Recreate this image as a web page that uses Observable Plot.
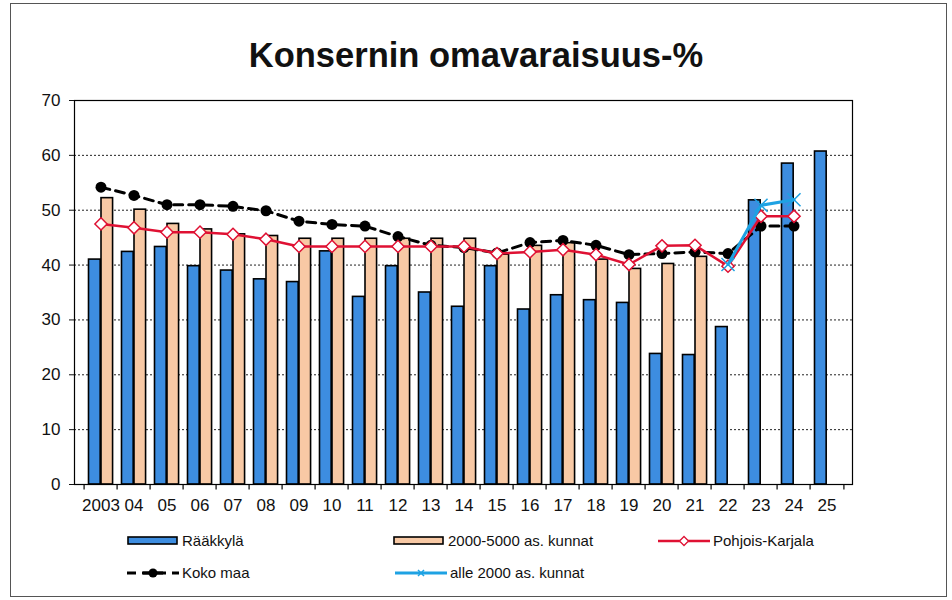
<!DOCTYPE html>
<html><head><meta charset="utf-8">
<script src="https://cdn.jsdelivr.net/npm/d3@7"></script>
<script src="https://cdn.jsdelivr.net/npm/@observablehq/plot@0.6"></script>
<style>
body{margin:0;background:#fff;font-family:"Liberation Sans",Arial,sans-serif;color:#111;}
#wrap{position:relative;width:952px;height:600px;overflow:hidden;}
#border{position:absolute;left:10px;top:3px;width:935px;height:592px;border:1.5px solid #555;}
#title{position:absolute;left:0;width:952px;top:35px;text-align:center;font-weight:bold;font-size:34.5px;line-height:40px;}
#chart{position:absolute;left:0;top:90px;}
.leg{position:absolute;display:flex;align-items:center;font-size:15px;line-height:16px;height:16px;white-space:nowrap;}
.leg svg{margin-right:3px;}
</style></head>
<body>
<div id="wrap">
  <div id="border"></div>
  <div id="title">Konsernin omavaraisuus-%</div>
  <div id="chart"></div>
  <div id="legend"></div>
</div>
<script>
const years = ["2003","04","05","06","07","08","09","10","11","12","13","14","15","16","17","18","19","20","21","22","23","24","25"];
const raakkyla = [41.0,42.4,43.3,39.8,39.0,37.4,36.9,42.5,34.2,39.8,35.0,32.4,39.8,31.9,34.5,33.6,33.1,23.8,23.6,28.7,51.8,58.5,60.7];
const kunnat2000_5000 = [52.2,50.1,47.5,46.5,45.6,45.3,44.8,44.8,44.8,44.8,44.8,44.8,41.9,43.5,44.0,41.0,39.3,40.2,41.5,null,null,null,null];
const pohjoisKarjala = [47.5,46.8,46.0,46.0,45.6,44.7,43.4,43.4,43.4,43.4,43.4,43.4,42.1,42.4,42.8,41.9,40.1,43.5,43.6,39.8,48.9,48.9,null];
const kokoMaa = [54.2,52.7,51.0,51.0,50.7,49.9,48.0,47.4,47.1,45.2,43.6,43.2,42.2,44.1,44.5,43.6,41.9,42.1,42.4,42.1,47.1,47.1,null];
const alle2000 = [null,null,null,null,null,null,null,null,null,null,null,null,null,null,null,null,null,null,null,40.1,50.9,51.9,null];
const yTicks = [0,10,20,30,40,50,60,70];
const seriesNames = ["Rääkkylä","2000-5000 as. kunnat","Pohjois-Karjala","Koko maa","alle 2000 as. kunnat"];

const BLUE = "#3d8de0", ORANGE = "#f8c9a5", RED = "#df1133", CYAN = "#1ea2e3";

const data = years.map((y,i) => ({
  year: y, raakkyla: raakkyla[i], k2000: kunnat2000_5000[i],
  pk: pohjoisKarjala[i], koko: kokoMaa[i], alle: alle2000[i]
}));

const W = 952, mL = 74, mR = 100;
const bw = (W - mL - mR) / years.length;

const chart = Plot.plot({
  width: W, height: 430, marginTop: 10, marginBottom: 36, marginLeft: mL, marginRight: mR,
  style: {fontFamily: "Liberation Sans, Arial, sans-serif", fontSize: "17px", color: "#111", background: "transparent"},
  x: {type: "band", domain: years, padding: 0, label: null, axis: null},
  y: {domain: [0, 70], label: null, axis: null},
  marks: [
    Plot.gridY(yTicks.filter(t => t > 0 && t < 70), {stroke: "#222", strokeOpacity: 1, strokeDasharray: "2,2", strokeWidth: 1}),
    Plot.barY(data, {x: "year", y: "raakkyla", fill: BLUE, stroke: "#000", strokeWidth: 1.6, insetLeft: 4.5, insetRight: bw - 17}),
    Plot.barY(data.filter(d => d.k2000 != null), {x: "year", y: "k2000", fill: ORANGE, stroke: "#000", strokeWidth: 1.6, insetLeft: 17, insetRight: bw - 29.4}),
    Plot.frame({stroke: "#000", strokeWidth: 1.2}),
    Plot.axisY({ticks: yTicks, tickSize: 5, tickPadding: 9, fontSize: 17, label: null}),
    Plot.axisX({tickSize: 0, tickPadding: 14, fontSize: 17, label: null}),
    Plot.ruleX(years, {x: d => d, dx: -bw / 2, y1: 0, y2: -1, stroke: "#000", strokeWidth: 1.2}),
    Plot.ruleX(years.slice(-1), {x: d => d, dx: bw / 2, y1: 0, y2: -1, stroke: "#000", strokeWidth: 1.2}),
    Plot.line(data, {x: "year", y: "koko", stroke: "#000", strokeWidth: 3, strokeDasharray: "9,6"}),
    Plot.dot(data.filter(d => d.koko != null), {x: "year", y: "koko", fill: "#000", r: 5.5}),
    Plot.line(data, {x: "year", y: "pk", stroke: RED, strokeWidth: 2.5}),
    Plot.dot(data.filter(d => d.pk != null), {x: "year", y: "pk", symbol: "diamond2", fill: "#fff", stroke: RED, strokeWidth: 1.5, r: 5.5}),
    Plot.line(data, {x: "year", y: "alle", stroke: CYAN, strokeWidth: 3}),
    Plot.dot(data.filter(d => d.alle != null), {x: "year", y: "alle", symbol: "times", stroke: CYAN, strokeWidth: 1.5, r: 6})
  ]
});
document.getElementById("chart").appendChild(chart);

// legend
const legendItems = [
  {name: seriesNames[0], left: 127, top: 533, kind: "bar", color: BLUE},
  {name: seriesNames[1], left: 393, top: 533, kind: "bar", color: ORANGE},
  {name: seriesNames[2], left: 658, top: 533, kind: "pk", color: RED},
  {name: seriesNames[3], left: 127, top: 565, kind: "koko", color: "#000"},
  {name: seriesNames[4], left: 395, top: 565, kind: "alle", color: CYAN}
];
const legend = document.getElementById("legend");
for (const it of legendItems) {
  const div = document.createElement("div");
  div.className = "leg";
  div.style.left = it.left + "px";
  div.style.top = it.top + "px";
  let sw = "";
  if (it.kind === "bar") sw = `<rect x="1" y="4" width="49" height="7" fill="${it.color}" stroke="#000" stroke-width="1.6"/>`;
  if (it.kind === "pk") sw = `<line x1="0" y1="8" x2="52" y2="8" stroke="${it.color}" stroke-width="2.5"/><path d="M26,3.5L30.5,8L26,12.5L21.5,8Z" fill="#fff" stroke="${it.color}" stroke-width="1.3"/>`;
  if (it.kind === "koko") sw = `<line x1="0" y1="8" x2="52" y2="8" stroke="#000" stroke-width="3" stroke-dasharray="9,6"/><line x1="16" y1="8" x2="36" y2="8" stroke="#000" stroke-width="3"/><circle cx="26" cy="8" r="4.5" fill="#000"/>`;
  if (it.kind === "alle") sw = `<line x1="0" y1="8" x2="52" y2="8" stroke="${it.color}" stroke-width="3"/><path d="M23,5L29,11M29,5L23,11" stroke="${it.color}" stroke-width="1.5"/>`;
  div.innerHTML = `<svg width="52" height="16">${sw}</svg><span>${it.name}</span>`;
  legend.appendChild(div);
}
</script>
</body></html>
